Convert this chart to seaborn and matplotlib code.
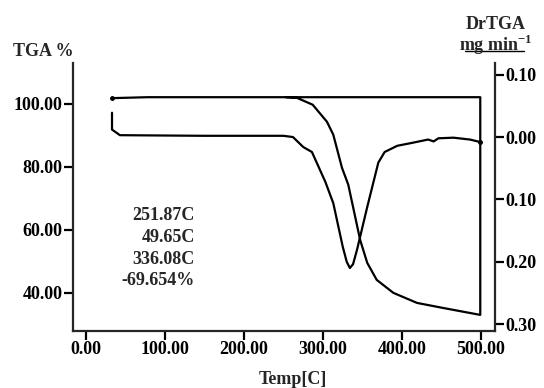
import matplotlib
matplotlib.use('Agg')
import matplotlib.pyplot as plt
import seaborn as sns
import pandas as pd
from matplotlib.ticker import FuncFormatter
from matplotlib.lines import Line2D

# Datos
tga_temp = [33, 78, 253, 267, 287, 305, 313, 324, 332, 347, 356, 368, 389, 419, 452, 499, 499, 253]
tga_val = [101.8, 102.1, 102.1, 101.9, 99.7, 94.3, 90.2, 79.7, 74.3, 56.8, 49.5, 44.1, 40.0, 36.8, 35.2, 33.0, 102.1, 102.1]

dr_temp = [33, 33, 43, 150, 250, 262, 275, 286, 303, 313, 325, 330, 334, 338, 343, 356, 370,
           378, 394, 414, 433, 440, 446, 465, 486, 499]
dr_val = [0.039, 0.012, 0.003, 0.002, 0.002, 0.0, -0.016, -0.024, -0.072, -0.106, -0.176, -0.200,
          -0.210, -0.204, -0.181, -0.112, -0.041, -0.024, -0.014, -0.009, -0.004, -0.007, -0.002,
          -0.001, -0.004, -0.008]

x_ticks = [0, 100, 200, 300, 400, 500]
left_ticks = [40, 60, 80, 100]
right_ticks = [0.10, 0.0, -0.10, -0.20, -0.30]
notes = ["251.87C", "49.65C", "336.08C", "-69.654%"]

df_tga = pd.DataFrame({'temp': tga_temp, 'tga': tga_val})
df_dr = pd.DataFrame({'temp': dr_temp, 'dr': dr_val})

sns.set_style('ticks')
plt.rcParams['font.family'] = ['Liberation Serif', 'DejaVu Serif']
plt.rcParams['font.weight'] = 'bold'
plt.rcParams['axes.labelweight'] = 'bold'
plt.rcParams['mathtext.fontset'] = 'custom'
plt.rcParams['mathtext.rm'] = 'Liberation Serif:bold'

fs = 13
fig = plt.figure(figsize=(5.44, 3.88), dpi=100)
ax = fig.add_axes([0.134, 0.147, 0.776, 0.691])
ax2 = ax.twinx()

sns.lineplot(data=df_tga, x='temp', y='tga', ax=ax, color='black', linewidth=1.6,
             sort=False, estimator=None, errorbar=None)
sns.lineplot(data=df_dr, x='temp', y='dr', ax=ax2, color='black', linewidth=1.6,
             sort=False, estimator=None, errorbar=None)

ax.set_xlim(-16.5, 517.7)
ax.set_ylim(27.9, 113.0)
ax2.set_ylim(-0.311, 0.119)

ax.set_xticks(x_ticks)
ax.set_yticks(left_ticks)
ax2.set_yticks(right_ticks)
ax.xaxis.set_major_formatter(FuncFormatter(lambda v, p: f"{v:.2f}"))
ax.yaxis.set_major_formatter(FuncFormatter(lambda v, p: f"{v:.2f}"))
ax2.yaxis.set_major_formatter(FuncFormatter(lambda v, p: f"{abs(v):.2f}"))

for a in (ax, ax2):
    a.spines['top'].set_visible(False)
    for s in ('left', 'right', 'bottom'):
        a.spines[s].set_linewidth(1.6)
    a.tick_params(width=1.6, length=6.5, labelsize=fs, colors='black', pad=1)
ax.spines['right'].set_visible(False)
ax2.spines['left'].set_visible(False)
ax2.spines['bottom'].set_visible(False)

ax.set_xlabel("Temp[C]", fontsize=fs)
ax.xaxis.set_label_coords(0.521, -0.148)
ax.set_ylabel("")
ax2.set_ylabel("")

fig.text(0.079, 0.866, "TGA %", fontsize=fs, ha='center', va='center')
fig.text(0.912, 0.938, "DrTGA", fontsize=fs, ha='center', va='center')
fig.text(0.912, 0.884, r"mg min$^{-1}$", fontsize=fs, ha='center', va='center')
fig.add_artist(Line2D([0.855, 0.963], [0.869, 0.869], color='black', linewidth=1.0,
                      transform=fig.transFigure))

for i, t in enumerate(notes):
    fig.text(0.358, 1 - (216 + 21.5 * i) / 388, t, fontsize=fs, ha='right', va='center')

# marcas pequeñas en los extremos
ax.plot([tga_temp[0]], [tga_val[0]], 'o', color='black', markersize=2.5)
ax2.plot([dr_temp[-1]], [dr_val[-1]], 'o', color='black', markersize=2.5)

fig.savefig('out.png', dpi=100)
